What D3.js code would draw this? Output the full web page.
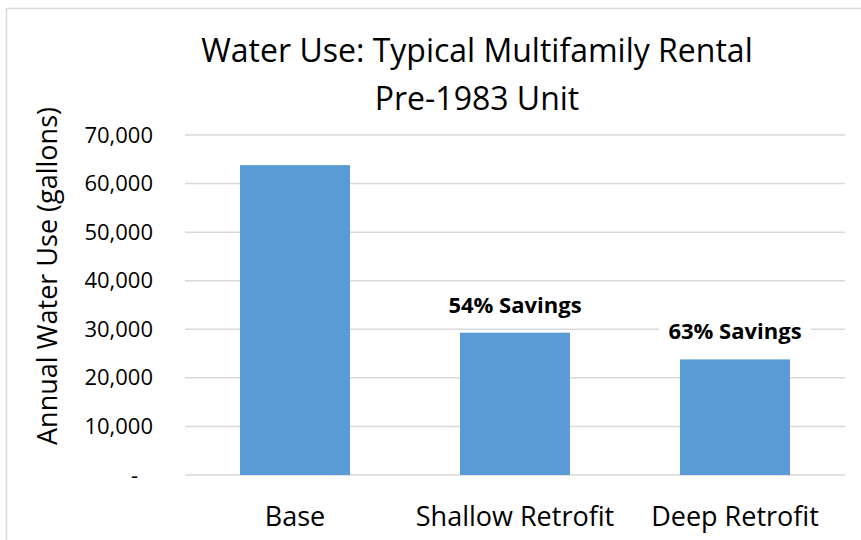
<!DOCTYPE html>
<html>
<head>
<meta charset="utf-8">
<script src="https://cdn.jsdelivr.net/npm/d3@7"></script>
<style>
  body { margin: 0; background: #fff; }
  text { font-family: "Open Sans", "Noto Sans", sans-serif; fill: #000; }
</style>
</head>
<body>
<div id="chart"></div>
<script>
const categories = ["Base", "Shallow Retrofit", "Deep Retrofit"];
const waterUse = [63800, 29300, 23800];
const savingsLabels = [null, "54% Savings", "63% Savings"];
const yTicks = [0, 10000, 20000, 30000, 40000, 50000, 60000, 70000];

const W = 861, H = 540;
const margin = {top: 135, right: 16, bottom: 65, left: 185};
const width = W - margin.left - margin.right,
  height = H - margin.top - margin.bottom;

const root = d3.select("#chart").append("svg")
  .attr("width", W)
  .attr("height", H);

// chart area border
root.append("rect")
  .attr("x", 6.5).attr("y", 8.5)
  .attr("width", W + 20).attr("height", H + 20)
  .attr("fill", "none")
  .attr("stroke", "#d9d9d9")
  .attr("stroke-width", 1.5);

const svg = root.append("g")
  .attr("transform", "translate(" + margin.left + "," + margin.top + ")");

const xScale = d3.scaleBand().domain(categories).range([0, width]).paddingInner(0.5).paddingOuter(0.25);
const yScale = d3.scaleLinear().domain([0, 70000]).range([height, 0]);

// gridlines
svg.append("g")
  .selectAll("line")
  .data(yTicks)
  .join("line")
  .attr("x1", 0).attr("x2", width)
  .attr("y1", d => yScale(d)).attr("y2", d => yScale(d))
  .attr("stroke", "#d9d9d9")
  .attr("stroke-width", 1.5);

// y axis
const yAxis = d3.axisLeft(yScale)
  .tickValues(yTicks)
  .tickSize(0)
  .tickPadding(32)
  .tickFormat(d => d === 0 ? "-" : d3.format(",")(d));
svg.append("g")
  .attr("class", "axis-y-axis")
  .call(yAxis)
  .call(g => g.select(".domain").remove())
  .call(g => g.selectAll("text").attr("font-size", 22).attr("font-family", null))
  .call(g => g.selectAll(".tick").filter(d => d === 0).select("text").attr("dx", -15));

// x axis
const xAxis = d3.axisBottom(xScale).tickSize(0);
svg.append("g")
  .attr("class", "axis-x-axis")
  .attr("transform", `translate(0, ${height})`)
  .call(xAxis)
  .call(g => g.select(".domain").remove())
  .call(g => g.selectAll("text").attr("font-size", 27).attr("font-family", null)
    .attr("dy", null).attr("y", 51));

// bars
svg.selectAll(".bar")
  .data(categories)
  .join("rect")
  .attr("class", "bar")
  .attr("x", d => xScale(d))
  .attr("width", xScale.bandwidth())
  .attr("y", (d, i) => yScale(waterUse[i]))
  .attr("height", (d, i) => height - yScale(waterUse[i]))
  .attr("fill", "#5b9bd5");

// savings labels
const labels = svg.selectAll(".lbl")
  .data(categories.map((c, i) => ({c, v: waterUse[i], t: savingsLabels[i]})).filter(d => d.t))
  .join("g")
  .attr("class", "lbl")
  .attr("transform", d => `translate(${xScale(d.c) + xScale.bandwidth() / 2}, ${yScale(d.v) - 20})`);
labels.append("rect")
  .attr("x", -76).attr("y", -21)
  .attr("width", 152).attr("height", 30)
  .attr("fill", "#fff");
labels.append("text")
  .attr("text-anchor", "middle")
  .attr("font-size", 22)
  .attr("font-weight", "bold")
  .text(d => d.t);

// title
const title = root.append("text")
  .attr("text-anchor", "middle")
  .attr("font-size", 32)
  .attr("x", 477);
title.append("tspan").attr("x", 477).attr("y", 62).text("Water Use: Typical Multifamily Rental");
title.append("tspan").attr("x", 477).attr("y", 110).text("Pre-1983 Unit");

// y axis title
root.append("text")
  .attr("text-anchor", "middle")
  .attr("font-size", 27)
  .attr("transform", "translate(57, 276) rotate(-90)")
  .text("Annual Water Use (gallons)");
</script>
</body>
</html>
